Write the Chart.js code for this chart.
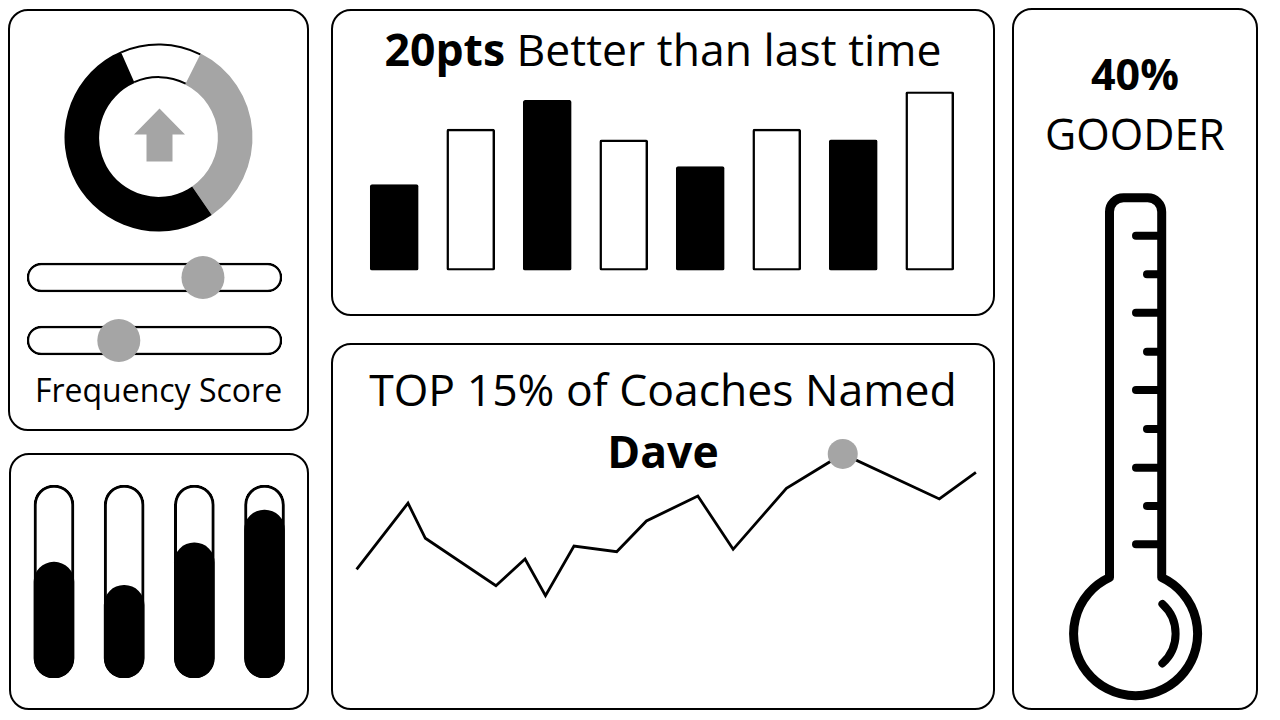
<!DOCTYPE html>
<html>
<head>
<meta charset="utf-8">
<title>Coach dashboard</title>
<script src="https://cdn.jsdelivr.net/npm/chart.js@4.4.1/dist/chart.umd.min.js"></script>
<style>
  html, body { margin: 0; padding: 0; background: #fff; }
  body {
    width: 1280px; height: 720px; position: relative; overflow: hidden;
    font-family: "Open Sans", "Noto Sans", sans-serif; color: #000;
  }
  .panel {
    position: absolute; box-sizing: border-box;
    border: 2.5px solid #000; border-radius: 20px;
  }
  canvas { position: absolute; }
  .txt { position: absolute; text-align: center; line-height: 1; white-space: nowrap; }
  .big { font-size: 44.5px; }
  .side { font-size: 43px; }
  b { font-weight: 700; }
</style>
</head>
<body>

<!-- panels -->
<div class="panel" style="left:8px; top:9px; width:301px; height:422px;"></div>
<div class="panel" style="left:9px; top:453px; width:300px; height:257px;"></div>
<div class="panel" style="left:331px; top:9px; width:664px; height:307px;"></div>
<div class="panel" style="left:331px; top:343px; width:664px; height:367px;"></div>
<div class="panel" style="left:1012px; top:8px; width:246px; height:702px;"></div>

<!-- texts -->
<div class="txt" style="left:8px; width:301px; top:373.6px; font-size:32px;">Frequency Score</div>
<div class="txt big" style="left:331px; width:664px; top:26.5px;"><b>20pts</b> Better than last time</div>
<div class="txt big" style="left:331px; width:664px; top:366.5px;">TOP 15% of Coaches Named</div>
<div class="txt big" style="left:331px; width:664px; top:428.5px;"><b>Dave</b></div>
<div class="txt side" style="left:1012px; width:246px; top:51.8px;"><b>40%</b></div>
<div class="txt side" style="left:1012px; width:246px; top:111.8px;">GOODER</div>

<!-- charts -->
<canvas id="ringChart" width="201" height="201" style="left:58px; top:37px;"></canvas>
<canvas id="sliderChart" width="275" height="146" style="left:17px; top:236px;"></canvas>
<canvas id="tubeChart" width="300" height="213" style="left:9px; top:475px;"></canvas>
<canvas id="barChart" width="632" height="200" style="left:346px; top:81px;"></canvas>
<canvas id="lineChart" width="640" height="190" style="left:346px; top:430px;"></canvas>

<!-- thermometer -->
<svg width="1280" height="720" style="position:absolute; left:0; top:0;">
  <g fill="none" stroke="#000" stroke-linecap="round" stroke-linejoin="round">
    <path stroke-width="9" d="M1109.5,577.5 V211.8 A14,14 0 0 1 1123.5,197.8 H1147.7 A14,14 0 0 1 1161.7,211.8 V577.5 A62,62 0 1 1 1109.5,577.5 Z"/>
    <g stroke-width="8">
      <line x1="1136" y1="235.7" x2="1160" y2="235.7"/>
      <line x1="1147" y1="274.3" x2="1160" y2="274.3"/>
      <line x1="1136" y1="312.7" x2="1160" y2="312.7"/>
      <line x1="1147" y1="351.7" x2="1160" y2="351.7"/>
      <line x1="1136" y1="390" x2="1160" y2="390"/>
      <line x1="1147" y1="429" x2="1160" y2="429"/>
      <line x1="1136" y1="467.7" x2="1160" y2="467.7"/>
      <line x1="1147" y1="506" x2="1160" y2="506"/>
      <line x1="1136" y1="544.3" x2="1160" y2="544.3"/>
      <path d="M1162.4,604 A40,40 0 0 1 1162.4,663.4"/>
    </g>
  </g>
</svg>

<script>
// ring (donut) shares
const ringLabels = ["Open", "Partial", "Done"];
const ringValues = [14, 33, 53];

// the two sliders, 0-100
const sliderLabels = ["Slider 1", "Slider 2"];
const sliderValues = [69, 36];
const sliderMax = 100;

// four level tubes, 0-100
const tubeLabels = ["A", "B", "C", "D"];
const tubeValues = [60, 48, 70, 87];
const tubeMax = 100;

// "20pts better" bars
const barLabels = ["1", "2", "3", "4", "5", "6", "7", "8"];
const barValues = [48, 79, 95, 73, 58, 79, 73, 100];

// "TOP 15%" line
const lineX = [0, 8.3, 11.1, 22.5, 27.2, 30.5, 35.1, 42.0, 46.8, 55.1, 60.8, 69.4, 78.5, 94.1, 100];
const lineY = [23.9, 62.8, 42.2, 14.3, 30, 8.4, 37.6, 34.3, 52.4, 67.1, 35.7, 71.6, 91.8, 65.3, 81];
const peakIndex = 12;

const ink = "#000000";
const paper = "#ffffff";
const grey = "#a5a5a5";

Chart.defaults.font.family = "'Open Sans', sans-serif";

const base = {
  responsive: false,
  animation: false,
  events: [],
  plugins: { legend: { display: false }, tooltip: { enabled: false } },
};

// thin outline on the white slice (arcs only) + grey arrow in the middle
const ringDecor = {
  id: "ringDecor",
  afterDatasetsDraw(chart) {
    const { ctx, chartArea } = chart;
    const arc = chart.getDatasetMeta(0).data[0];
    ctx.save();
    ctx.strokeStyle = ink;
    ctx.lineWidth = 2;
    ctx.beginPath();
    ctx.arc(arc.x, arc.y, arc.outerRadius - 1, arc.startAngle, arc.endAngle);
    ctx.stroke();
    ctx.beginPath();
    ctx.arc(arc.x, arc.y, arc.innerRadius + 1, arc.startAngle, arc.endAngle);
    ctx.stroke();

    const cx = (chartArea.left + chartArea.right) / 2 + 1;
    const cy = (chartArea.top + chartArea.bottom) / 2;
    ctx.fillStyle = grey;
    ctx.beginPath();
    ctx.moveTo(cx, cy - 29);
    ctx.lineTo(cx + 25.5, cy - 3);
    ctx.lineTo(cx + 13, cy - 3);
    ctx.lineTo(cx + 13, cy + 24);
    ctx.lineTo(cx - 13, cy + 24);
    ctx.lineTo(cx - 13, cy - 3);
    ctx.lineTo(cx - 25.5, cy - 3);
    ctx.closePath();
    ctx.fill();
    ctx.restore();
  },
};

new Chart(document.getElementById("ringChart"), {
  type: "doughnut",
  data: {
    labels: ringLabels,
    datasets: [{
      data: ringValues,
      backgroundColor: [paper, grey, ink],
      borderWidth: 0,
    }],
  },
  options: {
    ...base,
    radius: 94,
    cutout: 63.5,
    rotation: -23.7,
  },
  plugins: [ringDecor],
});

new Chart(document.getElementById("sliderChart"), {
  type: "bar",
  data: {
    labels: sliderLabels,
    datasets: [
      {
        type: "line",
        label: "knob",
        indexAxis: "y",
        data: sliderValues,
        showLine: false,
        pointRadius: 21.5,
        pointBackgroundColor: grey,
        pointBorderWidth: 0,
        order: 0,
      },
      {
        label: "track",
        data: sliderLabels.map(() => sliderMax),
        backgroundColor: paper,
        borderColor: ink,
        borderWidth: 2.5,
        borderRadius: 15,
        borderSkipped: false,
        barThickness: 29,
        order: 1,
      },
    ],
  },
  options: {
    ...base,
    indexAxis: "y",
    layout: { padding: 10, autoPadding: false },
    scales: {
      x: { display: false, min: 0, max: sliderMax },
      y: { display: false },
    },
  },
});

new Chart(document.getElementById("tubeChart"), {
  type: "bar",
  data: {
    labels: tubeLabels,
    datasets: [
      {
        label: "level",
        data: tubeValues,
        backgroundColor: ink,
        borderWidth: 0,
        borderRadius: 20,
        borderSkipped: false,
        barThickness: 40,
        grouped: false,
        order: 0,
      },
      {
        label: "tube",
        data: tubeLabels.map(() => tubeMax),
        backgroundColor: paper,
        borderColor: ink,
        borderWidth: 3,
        borderRadius: 20,
        borderSkipped: false,
        barThickness: 40,
        grouped: false,
        order: 1,
      },
    ],
  },
  options: {
    ...base,
    layout: { padding: { left: 9.9, right: 9.4, top: 10, bottom: 10 } },
    scales: {
      x: { display: false },
      y: { display: false, min: 0, max: tubeMax },
    },
  },
});

new Chart(document.getElementById("barChart"), {
  type: "bar",
  data: {
    labels: barLabels,
    datasets: [{
      data: barValues,
      backgroundColor: barValues.map((v, i) => (i % 2 === 0 ? ink : paper)),
      borderColor: ink,
      borderWidth: 2.5,
      borderRadius: 2,
      borderSkipped: false,
      barThickness: 48,
    }],
  },
  options: {
    ...base,
    layout: { padding: { left: 10, right: 10, top: 10.5, bottom: 10.5 } },
    scales: {
      x: { display: false },
      y: { display: false, min: 0, max: 100 },
    },
  },
});

new Chart(document.getElementById("lineChart"), {
  type: "line",
  data: {
    datasets: [{
      data: lineX.map((x, i) => ({ x: x, y: lineY[i] })),
      borderColor: ink,
      borderWidth: 2.8,
      tension: 0,
      pointRadius: lineX.map((x, i) => (i === peakIndex ? 15 : 0)),
      pointBackgroundColor: grey,
      pointBorderWidth: 0,
      clip: 20,
    }],
  },
  options: {
    ...base,
    layout: { padding: { left: 10.6, right: 10.1, top: 10, bottom: 10 }, autoPadding: false },
    scales: {
      x: { type: "linear", display: false, min: 0, max: 100 },
      y: { display: false, min: 0, max: 100 },
    },
  },
});
</script>
</body>
</html>
